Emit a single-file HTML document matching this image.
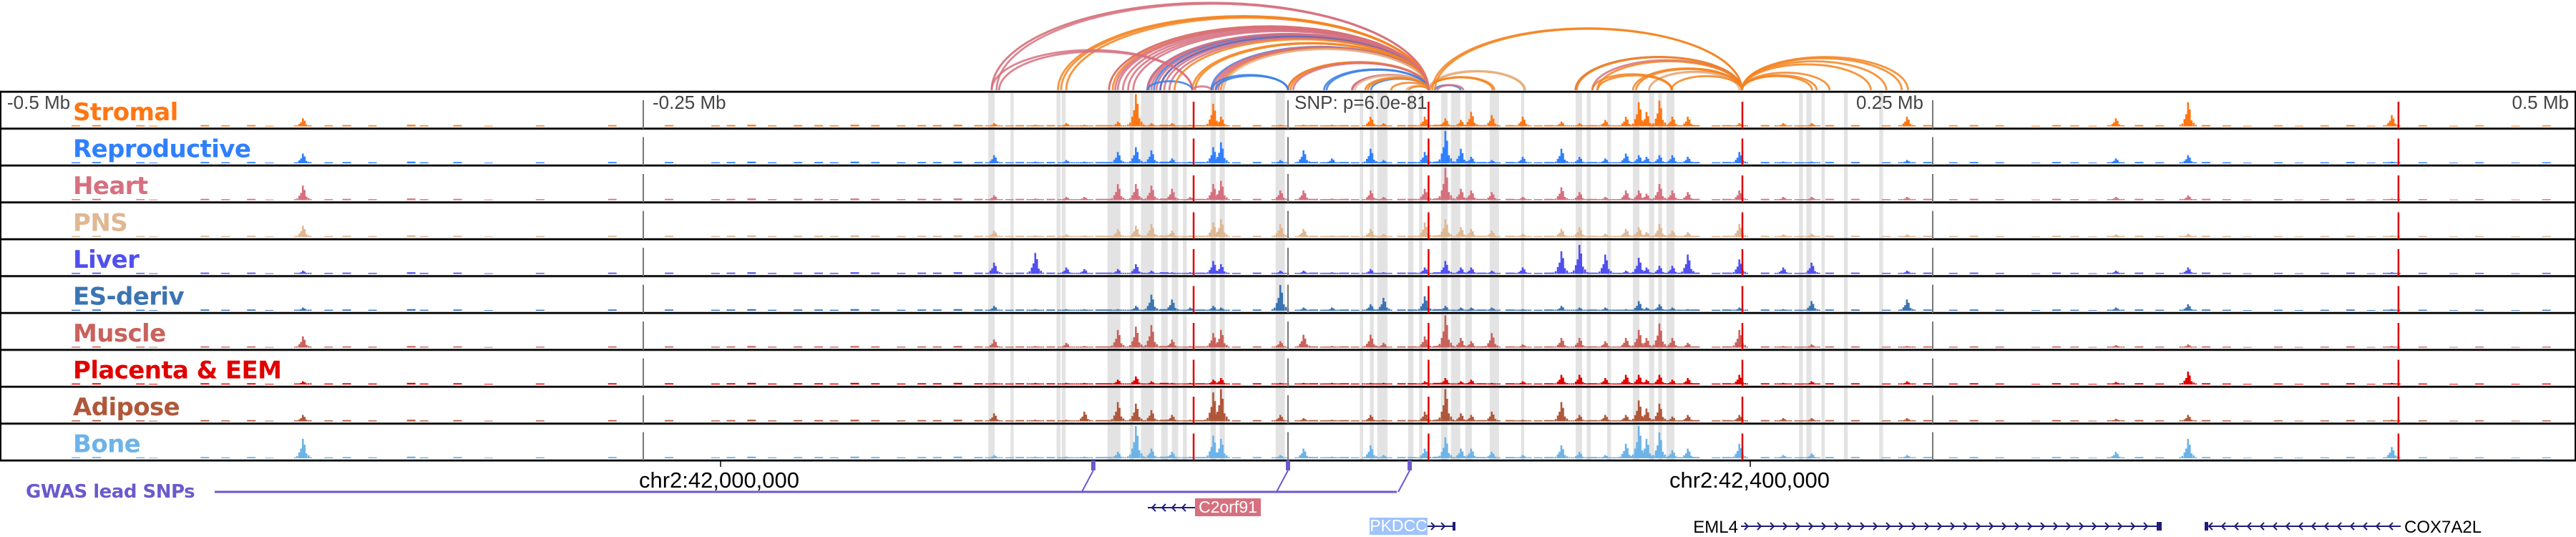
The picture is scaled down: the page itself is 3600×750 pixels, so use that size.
<!DOCTYPE html>
<html><head><meta charset="utf-8">
<style>
html,body{margin:0;padding:0;background:#fff;}
svg{display:block;}
text{font-family:"Liberation Sans","DejaVu Sans",sans-serif;}
.lbl{font-family:"DejaVu Sans","Liberation Sans",sans-serif;font-weight:bold;font-size:34px;letter-spacing:-0.6px;}
</style></head>
<body>
<svg id="chart" width="3600" height="750" viewBox="0 0 3600 750" xmlns="http://www.w3.org/2000/svg">
  <g id="arcs"></g>
  <g id="shades"></g>
  <g id="tracks"></g>
  <g id="vlines"></g>
  <g id="labels"></g>
  <g id="axis">
    <text x="10" y="152" font-size="26" fill="#444">-0.5 Mb</text>
    <text x="912" y="152" font-size="26" fill="#444">-0.25 Mb</text>
    <text x="1809" y="152" font-size="26" fill="#444">SNP: p=6.0e-81</text>
    <text x="2688" y="152" font-size="26" fill="#444" text-anchor="end">0.25 Mb</text>
    <text x="3590" y="152" font-size="26" fill="#444" text-anchor="end">0.5 Mb</text>
    <line x1="1007" y1="644" x2="1007" y2="652" stroke="#000" stroke-width="1.5"/>
    <text x="1005" y="681" font-size="31" fill="#000" text-anchor="middle">chr2:42,000,000</text>
    <line x1="2446" y1="644" x2="2446" y2="652" stroke="#000" stroke-width="1.5"/>
    <text x="2445" y="681" font-size="31" fill="#000" text-anchor="middle">chr2:42,400,000</text>
  </g>
  <g id="gwas">
    <text x="36" y="695" class="lbl" style="font-size:26px;letter-spacing:-0.5px" fill="#6a5acd">GWAS lead SNPs</text>
  </g>
  <g id="genes"></g>
</svg>
<script>
// ---- data ----
const trackNames = ["Stromal","Reproductive","Heart","PNS","Liver","ES-deriv","Muscle","Placenta & EEM","Adipose","Bone"];
const trackColors = ["#ff7613","#2f80ff","#d6707f","#dfb792","#5050ee","#3b74b2","#c9625c","#e10000","#b0573a","#6cb4e8"];
const peakKb = [-382,-114,-98,-86,-79,-66,-59,-53,-45,-38,-29,-26,-3,6,17,32,37,53,61,67,71,79,91,106,113,123,131,136,139,144,149,155,175,192,203,240,321,349,428];
const stromal      = [0.25,0.10,0.05,0.10,0.05,0.15,1.00,0.10,0.10,0.05,0.70,0.30,0.05,0.05,0.05,0.30,0.10,0.30,0.25,0.20,0.45,0.35,0.30,0.15,0.10,0.20,0.30,0.75,0.45,0.80,0.30,0.30,0.10,0.10,0.10,0.30,0.25,0.75,0.35];
const reproductive = [0.30,0.25,0.05,0.10,0.05,0.35,0.50,0.40,0.15,0.05,0.50,0.65,0.10,0.40,0.15,0.45,0.10,0.35,1.00,0.45,0.20,0.10,0.20,0.45,0.20,0.15,0.30,0.25,0.20,0.25,0.25,0.20,0.35,0.05,0.05,0.10,0.15,0.25,0.05];
const heart        = [0.45,0.15,0.05,0.10,0.10,0.50,0.50,0.45,0.35,0.10,0.50,0.60,0.30,0.30,0.05,0.30,0.10,0.35,1.00,0.35,0.30,0.25,0.10,0.40,0.25,0.10,0.30,0.30,0.20,0.50,0.30,0.25,0.30,0.10,0.10,0.10,0.10,0.15,0.05];
const pns          = [0.35,0.20,0.05,0.08,0.05,0.25,0.35,0.40,0.20,0.05,0.45,0.55,0.40,0.25,0.05,0.25,0.10,0.45,0.55,0.30,0.25,0.20,0.10,0.25,0.30,0.10,0.25,0.30,0.15,0.40,0.20,0.15,0.40,0.08,0.10,0.08,0.08,0.10,0.05];
const liver        = [0.10,0.35,0.65,0.20,0.15,0.15,0.30,0.10,0.05,0.05,0.40,0.30,0.10,0.10,0.05,0.15,0.05,0.20,0.40,0.20,0.20,0.10,0.20,0.70,0.90,0.60,0.10,0.50,0.20,0.25,0.25,0.60,0.45,0.20,0.35,0.10,0.10,0.20,0.05];
const esDeriv      = [0.10,0.15,0.05,0.05,0.05,0.05,0.15,0.50,0.35,0.10,0.15,0.10,0.80,0.10,0.10,0.20,0.40,0.45,0.15,0.10,0.10,0.10,0.05,0.15,0.10,0.10,0.05,0.30,0.10,0.20,0.10,0.05,0.10,0.05,0.30,0.35,0.10,0.20,0.05];
const muscle       = [0.35,0.25,0.05,0.15,0.05,0.55,0.65,0.70,0.25,0.05,0.45,0.55,0.20,0.40,0.05,0.40,0.15,0.35,1.00,0.30,0.20,0.45,0.10,0.30,0.30,0.20,0.30,0.55,0.30,0.75,0.30,0.15,0.55,0.05,0.10,0.05,0.08,0.10,0.05];
const placenta     = [0.10,0.05,0.05,0.05,0.05,0.15,0.25,0.10,0.05,0.05,0.15,0.20,0.05,0.05,0.05,0.05,0.05,0.10,0.20,0.10,0.15,0.05,0.10,0.30,0.30,0.20,0.30,0.30,0.15,0.30,0.15,0.20,0.30,0.05,0.10,0.10,0.08,0.40,0.05];
const adipose      = [0.20,0.25,0.05,0.05,0.30,0.60,0.55,0.35,0.20,0.05,0.90,1.00,0.20,0.10,0.05,0.20,0.05,0.30,1.00,0.25,0.20,0.30,0.05,0.60,0.20,0.20,0.20,0.65,0.40,0.55,0.15,0.20,0.20,0.10,0.10,0.10,0.08,0.20,0.05];
const bone         = [0.60,0.10,0.05,0.05,0.05,0.20,1.00,0.30,0.20,0.05,0.70,0.60,0.10,0.30,0.05,0.40,0.10,0.30,0.65,0.30,0.30,0.20,0.10,0.40,0.20,0.10,0.45,1.00,0.60,0.80,0.25,0.30,0.45,0.10,0.15,0.10,0.20,0.60,0.35];
const trackValues = [stromal,reproductive,heart,pns,liver,esDeriv,muscle,placenta,adipose,bone];
const noiseKb = [-470,-462,-445,-440,-420,-412,-402,-395,-372,-365,-355,-340,-335,-322,-310,-290,-262,-240,-222,-216,-208,-200,-190,-182,-176,-168,-160,-150,-142,-136,-128,-120,-108,-104,-92,-73,-70,-48,-34,-20,-12,10,14,22,26,44,48,58,75,86,97,101,118,128,158,166,170,185,198,210,220,232,248,258,266,276,290,298,305,312,330,338,356,364,372,384,392,402,412,420,440,452,462,476,488];
const noiseH = [0.03,0.04,0.03,0.02,0.04,0.03,0.04,0.02,0.03,0.04,0.03,0.05,0.03,0.04,0.02,0.03,0.04,0.04,0.03,0.04,0.05,0.03,0.04,0.04,0.03,0.05,0.04,0.03,0.04,0.04,0.05,0.04,0.03,0.04,0.04,0.04,0.04,0.05,0.04,0.03,0.04,0.04,0.03,0.04,0.03,0.04,0.04,0.05,0.04,0.04,0.03,0.04,0.04,0.03,0.04,0.03,0.04,0.04,0.03,0.04,0.04,0.03,0.04,0.03,0.04,0.03,0.02,0.04,0.03,0.02,0.04,0.03,0.04,0.03,0.02,0.03,0.02,0.03,0.04,0.02,0.03,0.02,0.03,0.02,0.03];
const shadeKb = [-115,-107,-89,-87,-67.5,-60.6,-54.5,-47.9,-43.8,-40,-29,-25.5,-3,28.5,32.5,36.6,47.6,51.5,60.6,65,70,80,91,112.8,116.6,124.5,135,141,144.3,148.3,198.9,202,207.5,216.3,230];
const shadeWidthKb = [2.5,1.2,1.5,1.5,5,1.5,5,2.5,2.5,1.5,2,2,3.6,1.3,1.5,4,2,1.3,2.5,3.6,2.5,3.6,1.2,2.5,1.5,1.5,2.5,2,1.5,3,1.5,2,1.3,1.5,1.5];
const arcStart = [-114.9,-113,-114.9,-89.2,-88,-86,-69.4,-68,-67,-69.4,-66,-60,-54.5,-54,-53,-52,-54.5,-51,-49.5,-48,-49.5,-46,-37.1,-36,-29.7,-29,-28,-27,-26,-25,0,1,0,2,24.8,25,24.8,26,32.2,40,-114.9,-112,-54.5,-37.1,-29.7,-28,14,15,30,31,46,47,54.5,54.5,55,54.5,57,58,57,56,111.5,112,111.5,118,120,133.8,135,140,140,148.7,120,118,176,176,176,176,176,176,176,-64,-44,-62];
const arcEnd   = [54.5,54.5,54.5,54.5,54.5,54.5,54.5,54.5,54.5,54.5,54.5,54.5,54.5,54.5,54.5,54.5,54.5,54.5,54.5,54.5,54.5,54.5,54.5,54.5,54.5,54.5,54.5,54.5,54.5,54.5,54.5,54.5,54.5,54.5,54.5,54.5,54.5,54.5,54.5,54.5,-37.1,-37.1,-37.1,-29.7,0,0,54.5,54.5,54.5,54.5,54.5,54.5,79.3,80,91.7,92,66.9,68,176,176,176,176,176,176,176,176,176,176,175,176,148.7,149,240.4,238,203.2,205,210,226,232,54.5,54.5,54.5];
const arcColor = ["#e0b896","#d6707f","#d6707f","#f5821f","#f5821f","#f5821f","#f5821f","#f5821f","#d6707f","#d6707f","#d6707f","#d6707f","#3a7fe8","#d6707f","#d6707f","#3a7fe8","#d6707f","#d6707f","#d6707f","#d6707f","#5c6bc0","#d6707f","#f5821f","#f5821f","#3a7fe8","#d6707f","#d6707f","#d6707f","#f5821f","#e0b896","#d6707f","#f5821f","#f5821f","#d6707f","#e0b896","#d6707f","#d6707f","#e0b896","#3a7fe8","#f5821f","#d6707f","#d6707f","#3a7fe8","#d6707f","#3a7fe8","#3a7fe8","#3a7fe8","#3a7fe8","#f5821f","#f5821f","#e0b896","#f5821f","#f5821f","#f5821f","#f5821f","#e0b896","#3a7fe8","#d6707f","#f5821f","#f5821f","#5c6bc0","#f5821f","#f5821f","#d6707f","#f5821f","#f5821f","#f5821f","#f5821f","#e0b896","#f5821f","#f5821f","#f5821f","#f5821f","#f5821f","#f5821f","#f5821f","#f5821f","#f5821f","#f5821f","#d6707f","#f5821f","#d6707f"];
const redLineKb = [-36.6,54.5,176.2,430.6];
const grayLineKb = [-250,0,250];
const gwasKb = [-75.5,0,47.2];

// ---- scales ----
const NS = "http://www.w3.org/2000/svg";
const X0 = 1800, PXKB = 3.604;
function xs(kb){ return X0 + kb*PXKB; }
const TOP = 128, TH = 51.5, NT = 10;
function trackTop(i){ return TOP + i*TH; }
function mk(tag, attrs, parent){ const e=document.createElementNS(NS,tag); for(const k in attrs) e.setAttribute(k,attrs[k]); parent.appendChild(e); return e; }

// arcs
const arcsG = document.getElementById('arcs');
arcStart.forEach((s,i)=>{
  const x1=xs(s), x2=xs(arcEnd[i]); const span=x2-x1;
  const h=Math.min(124, span*0.2); const by=126;
  const p=mk('path',{d:`M${x1},${by} A${span/2},${h} 0 0 1 ${x2},${by}`,fill:'none',stroke:arcColor[i],'stroke-width':2.8,opacity:0.85},arcsG);
  
  
});

// shades
const shG = document.getElementById('shades');
shadeKb.forEach((k,i)=>{
  const w=shadeWidthKb[i]*PXKB;
  const r=mk('rect',{x:xs(k)-w/2,y:TOP,width:w,height:TH*NT,fill:'#e3e3e3'},shG);
  
  
});

// tracks
const trG = document.getElementById('tracks');
const MAXH = 45;
const shape=[[0,1],[-2.5,0.5],[2.5,0.7],[-5,0.3],[5,0.25],[-8,0.12],[8,0.15],[-11,0.06],[11,0.06]];
trackValues.forEach((vals,t)=>{
  const base = trackTop(t)+TH-3;
  const g=mk('g',{fill:trackColors[t]},trG);
  
  
  let d='';
  noiseKb.forEach((k,i)=>{ const h=noiseH[i]*MAXH; const x=xs(k); d+=`M${x-6},${base}h12v${-h}h-12z`; });
  vals.forEach((v,i)=>{
    const x=xs(peakKb[i]);
    shape.forEach(([dx,f])=>{ const h=Math.max(1.5,v*f*MAXH); d+=`M${x+dx-1.3},${base}h2.6v${-h}h-2.6z`; });
  });
  const p=mk('path',{d:d},g);
  
  
});

// borders
const vl=document.getElementById('vlines');
for(let i=0;i<=NT;i++){
  const y=trackTop(i);
  mk('line',{x1:0,x2:3600,y1:y+1.5,y2:y+1.5,stroke:'#999','stroke-width':1},vl);
  mk('line',{x1:0,x2:3600,y1:y,y2:y,stroke:'#000','stroke-width':2.5},vl);
}
mk('line',{x1:1,x2:1,y1:TOP,y2:TOP+TH*NT,stroke:'#000','stroke-width':2},vl);
mk('line',{x1:3599,x2:3599,y1:TOP,y2:TOP+TH*NT,stroke:'#000','stroke-width':2},vl);
grayLineKb.forEach(k=>{
  for(let i=0;i<NT;i++){ const y=trackTop(i);
    const l=mk('line',{x1:xs(k),x2:xs(k),y1:y+12,y2:y+TH,stroke:'#777','stroke-width':2},vl);
    
    
  }
});
redLineKb.forEach(k=>{
  for(let i=0;i<NT;i++){ const y=trackTop(i);
    const l=mk('line',{x1:xs(k),x2:xs(k),y1:y+14,y2:y+TH,stroke:'#e00000','stroke-width':2.5},vl);
    
    
  }
});

// labels
const lg=document.getElementById('labels');
trackNames.forEach((n,i)=>{
  const t=mk('text',{x:102,y:trackTop(i)+40,fill:trackColors[i],class:'lbl'},lg);
  t.textContent=n;
  
  
});

// gwas
const gw=document.getElementById('gwas');
const lastX=xs(gwasKb[gwasKb.length-1])-18;
mk('line',{x1:300,x2:lastX,y1:687,y2:687,stroke:'#6a5acd','stroke-width':3},gw);
gwasKb.forEach(k=>{
  const x=xs(k);
  const r=mk('rect',{x:x-3,y:643,width:6,height:14,fill:'#6a5acd'},gw);
  
  
  mk('line',{x1:x,y1:657,x2:x-16,y2:687,stroke:'#6a5acd','stroke-width':2},gw);
});

// genes
const ge=document.getElementById('genes');
function chevrons(x1,x2,y,dir,step){
  let d=`M${x1},${y}H${x2}`;
  for(let x=x1+8;x<x2-4;x+=step){ d+= dir>0?`M${x-3},${y-5}L${x+2},${y}L${x-3},${y+5}`:`M${x+3},${y-5}L${x-2},${y}L${x+3},${y+5}`; }
  return d;
}
function gene(name,opts){
  const g=mk('g',{},ge);
  
  
  mk('path',{d:chevrons(opts.l1,opts.l2,opts.ly,opts.dir,opts.step),stroke:'#1e1e78','stroke-width':2,fill:'none'},g);
  if(opts.box){
    mk('rect',{x:opts.box[0],y:opts.box[1],width:opts.box[2],height:opts.box[3],fill:opts.box[4]},g);
    const t=mk('text',{x:opts.box[0]+opts.box[2]/2,y:opts.box[1]+opts.box[3]-5,'font-size':23,fill:'#fff','text-anchor':'middle'},g);
    t.textContent=name;
  } else {
    const t=mk('text',{x:opts.tx,y:opts.ly+9,'font-size':24,fill:'#000','text-anchor':opts.anchor},g);
    t.textContent=name;
  }
  (opts.blocks||[]).forEach(b=>mk('rect',{x:b[0],y:opts.ly-b[1]/2,width:b[2],height:b[1],fill:'#1e1e78'},g));
}
gene('C2orf91',{l1:1604,l2:1670,ly:709,dir:-1,step:14,box:[1670,696,92,25,'#d6707f']});
gene('PKDCC',{l1:1995,l2:2034,ly:735,dir:1,step:14,box:[1914,723,81,24,'#9fc3fb'],blocks:[[2030,12,4]]});
gene('EML4',{l1:2433,l2:3021,ly:735,dir:1,step:18,tx:2429,anchor:'end',blocks:[[3014,12,7]]});
gene('COX7A2L',{l1:3081,l2:3355,ly:735,dir:-1,step:18,tx:3360,anchor:'start',blocks:[[3081,12,5]]});
</script>
</body></html>
